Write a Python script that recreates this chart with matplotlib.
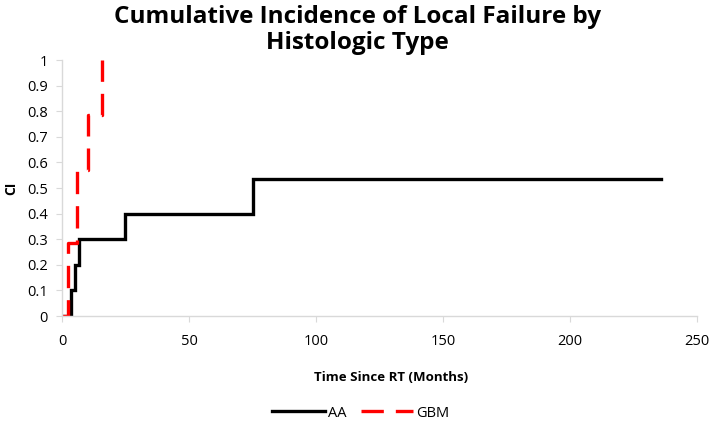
import matplotlib
matplotlib.use("Agg")
import matplotlib.pyplot as plt

# Data
aa_time = [0, 3.4, 5.1, 6.8, 24.8, 75.1, 235.9]
aa_ci = [0, 0.1, 0.2, 0.3, 0.4, 0.535, 0.535]
gbm_time = [0, 2.5, 5.8, 10.4, 15.6]
gbm_ci = [0, 0.286, 0.571, 0.786, 1.0]
x_ticks = [0, 50, 100, 150, 200, 250]
y_ticks = [0, 0.1, 0.2, 0.3, 0.4, 0.5, 0.6, 0.7, 0.8, 0.9, 1]
y_tick_labels = ["0", "0.1", "0.2", "0.3", "0.4", "0.5", "0.6", "0.7", "0.8", "0.9", "1"]

plt.rcParams['font.family'] = ['Open Sans', 'DejaVu Sans']

fig = plt.figure(figsize=(7.14, 4.23), dpi=100)
ax = fig.add_axes([62/714, 1 - 316/423, (697-62)/714, (316-60)/423])

ax.plot(aa_time, aa_ci, drawstyle='steps-post', color='black', lw=2.4, label='AA',
        solid_joinstyle='miter')
line, = ax.plot(gbm_time, gbm_ci, drawstyle='steps-post', color='#ff0000', lw=2.4, label='GBM',
                dash_capstyle='butt')
line.set_dashes((6.7, 3.6))

ax.set_xlim(0, 250)
ax.set_ylim(0, 1)
ax.set_xticks(x_ticks)
ax.set_yticks(y_ticks)
ax.set_yticklabels(y_tick_labels)
for s in ['top', 'right']:
    ax.spines[s].set_visible(False)
for s in ['left', 'bottom']:
    ax.spines[s].set_color('#d9d9d9')
    ax.spines[s].set_linewidth(1.0)
ax.tick_params(axis='both', colors='#d9d9d9', labelcolor='black', labelsize=10.5, length=4)
ax.tick_params(axis='x', pad=9)
ax.tick_params(axis='y', pad=6)

ax.set_xlabel('Time Since RT (Months)', fontsize=9.5, fontweight='bold')
ax.xaxis.set_label_coords((391-62)/(697-62), -(371-316)/(316-60))
ax.set_ylabel('CI', fontsize=10, fontweight='bold')
ax.yaxis.set_label_coords(-(62-18)/(697-62), 0.5)

fig.text(0.5, 1 - 30/423, 'Cumulative Incidence of Local Failure by\nHistologic Type',
         ha='center', va='center', fontsize=17.5, fontweight='bold', linespacing=1.1)

fig.legend(loc='center', bbox_to_anchor=(361/714, 1 - 413/423), ncol=2, frameon=False,
           fontsize=10.5, handlelength=3.6, columnspacing=1.0, handletextpad=0.2)

fig.savefig('out.png', dpi=100)
